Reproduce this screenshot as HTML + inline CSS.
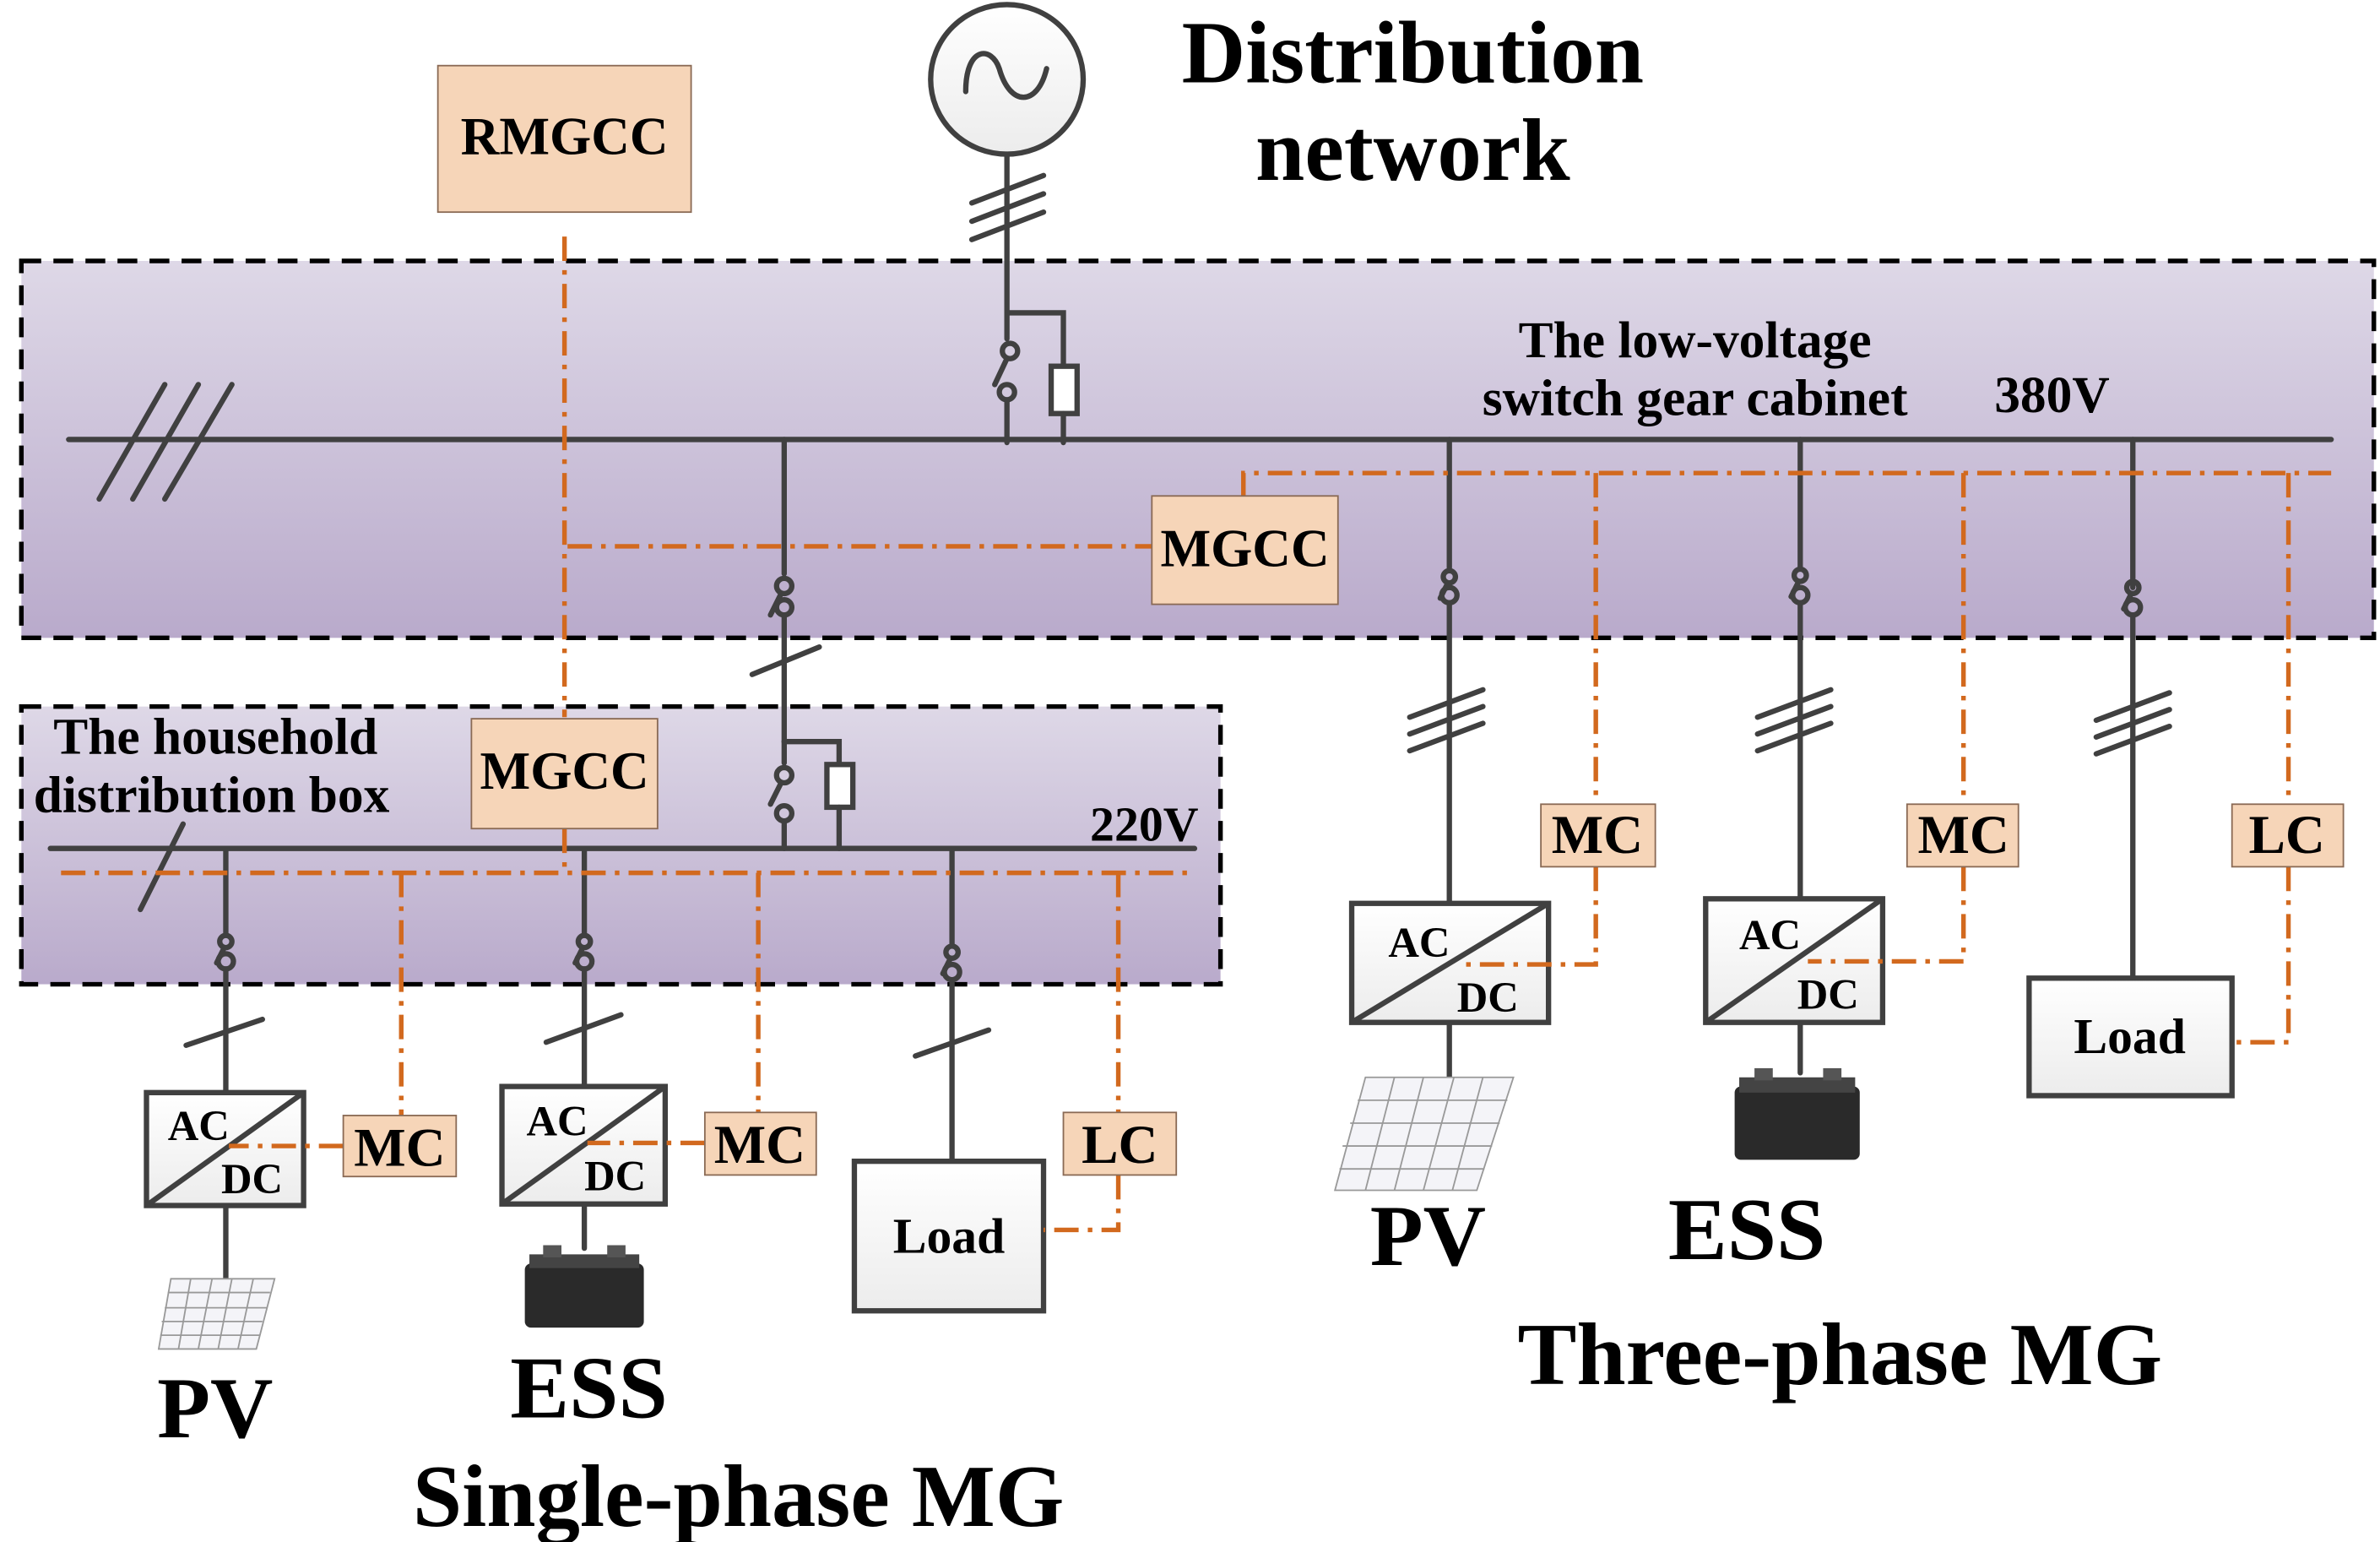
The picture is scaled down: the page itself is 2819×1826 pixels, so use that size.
<!DOCTYPE html>
<html><head><meta charset="utf-8"><style>
html,body{margin:0;padding:0;background:#fff;}
svg{display:block;}
text{font-family:"Liberation Serif",serif;font-weight:bold;fill:#000;}
</style></head><body>
<svg width="2819" height="1826" viewBox="0 0 1560 1010.5" xmlns="http://www.w3.org/2000/svg">
<defs>
<linearGradient id="g" x1="0" y1="0" x2="0" y2="1"><stop offset="0" stop-color="#ded8e7"/><stop offset="1" stop-color="#b9aacb"/></linearGradient>
<linearGradient id="w" x1="0" y1="0" x2="0" y2="1"><stop offset="0" stop-color="#ffffff"/><stop offset="1" stop-color="#ececec"/></linearGradient>
</defs>
<rect x="14" y="171" width="1542" height="247" fill="url(#g)" stroke="#000" stroke-width="3" stroke-dasharray="13 8"/>
<rect x="14" y="463" width="786" height="182" fill="url(#g)" stroke="#000" stroke-width="3" stroke-dasharray="13 8"/>

<g stroke="#404040" stroke-width="3.5" fill="none" stroke-linecap="round">
<ellipse cx="660" cy="52" rx="50" ry="49" fill="url(#w)"/>
<path d="M633 60 C633 30 650 30 655 45 C662 70 680 70 686 45" />
<line x1="660" y1="101" x2="660" y2="205"/>
<line x1="637" y1="133" x2="684" y2="115"/><line x1="637" y1="145" x2="684" y2="127"/><line x1="637" y1="157" x2="684" y2="139"/>
<line x1="660" y1="205" x2="660" y2="222"/>
<circle cx="662" cy="230" r="5"/><line x1="660" y1="235" x2="652" y2="252"/>
<circle cx="660" cy="257" r="5"/><line x1="660" y1="262" x2="660" y2="290"/>
<path d="M660 205 H697 V240"/><rect x="689" y="240" width="17" height="31" fill="#fff"/><line x1="697" y1="271" x2="697" y2="290"/>
<line x1="45" y1="288" x2="1528" y2="288"/>
<line x1="65" y1="327" x2="108" y2="252"/><line x1="87" y1="327" x2="130" y2="252"/><line x1="108" y1="327" x2="152" y2="252"/>
<line x1="514" y1="288" x2="514" y2="376"/>
<circle cx="514" cy="384" r="5"/><line x1="512" y1="389" x2="505" y2="403"/>
<circle cx="514" cy="398" r="5"/><line x1="514" y1="403" x2="514" y2="486"/>
<line x1="493" y1="442" x2="537" y2="424"/>
<line x1="514" y1="486" x2="514" y2="500"/>
<circle cx="514" cy="508" r="5"/><line x1="512" y1="513" x2="505" y2="527"/>
<circle cx="514" cy="533" r="5"/><line x1="514" y1="538" x2="514" y2="556"/>
<path d="M514 486 H550 V501"/><rect x="542" y="501" width="17" height="28" fill="#fff"/><line x1="550" y1="529" x2="550" y2="556"/>
<line x1="950" y1="288" x2="950" y2="372"/><circle cx="950" cy="378" r="4"/><line x1="949" y1="382" x2="944" y2="392"/><circle cx="950" cy="390" r="5"/><line x1="950" y1="395" x2="950" y2="592"/>
<line x1="924" y1="470" x2="972" y2="452"/><line x1="924" y1="481" x2="972" y2="463"/><line x1="924" y1="492" x2="972" y2="474"/>
<line x1="1180" y1="288" x2="1180" y2="372"/><circle cx="1180" cy="377" r="4"/><line x1="1179" y1="381" x2="1174" y2="391"/><circle cx="1180" cy="390" r="5"/><line x1="1180" y1="395" x2="1180" y2="589"/>
<line x1="1152" y1="470" x2="1200" y2="452"/><line x1="1152" y1="481" x2="1200" y2="463"/><line x1="1152" y1="492" x2="1200" y2="474"/>
<line x1="1398" y1="288" x2="1398" y2="385"/><circle cx="1398" cy="385" r="4"/><line x1="1397" y1="389" x2="1392" y2="399"/><circle cx="1398" cy="398" r="5"/><line x1="1398" y1="403" x2="1398" y2="641"/>
<line x1="1374" y1="472" x2="1422" y2="454"/><line x1="1374" y1="483" x2="1422" y2="465"/><line x1="1374" y1="494" x2="1422" y2="476"/>
<line x1="950" y1="670" x2="950" y2="706"/><line x1="1180" y1="670" x2="1180" y2="703"/>
<line x1="33" y1="556" x2="783" y2="556"/>
<line x1="92" y1="596" x2="120" y2="540"/>
<line x1="148" y1="556" x2="148" y2="612"/><circle cx="148" cy="617" r="4"/><line x1="147" y1="621" x2="142" y2="631"/><circle cx="148" cy="630" r="5"/><line x1="148" y1="635" x2="148" y2="716"/>
<line x1="122" y1="685" x2="172" y2="668"/>
<line x1="383" y1="556" x2="383" y2="612"/><circle cx="383" cy="617" r="4"/><line x1="382" y1="621" x2="377" y2="631"/><circle cx="383" cy="630" r="5"/><line x1="383" y1="635" x2="383" y2="712"/>
<line x1="358" y1="683" x2="407" y2="665"/>
<line x1="624" y1="556" x2="624" y2="620"/><circle cx="624" cy="624" r="4"/><line x1="623" y1="628" x2="618" y2="638"/><circle cx="624" cy="637" r="5"/><line x1="624" y1="642" x2="624" y2="761"/>
<line x1="600" y1="692" x2="648" y2="675"/>
<line x1="148" y1="790" x2="148" y2="838"/><line x1="383" y1="789" x2="383" y2="818"/>
</g>

<g stroke="#404040" stroke-width="3.5" fill="url(#w)">
<rect x="886" y="592" width="129" height="78"/><line x1="886" y1="670" x2="1015" y2="592"/>
<rect x="1118" y="589" width="116" height="81"/><line x1="1118" y1="670" x2="1234" y2="589"/>
<rect x="1330" y="641" width="133" height="77"/>
<rect x="96" y="716" width="103" height="74"/><line x1="96" y1="790" x2="199" y2="716"/>
<rect x="329" y="712" width="107" height="77"/><line x1="329" y1="789" x2="436" y2="712"/>
<rect x="560" y="761" width="124" height="98"/>
</g>

<g stroke="#d2691e" stroke-width="3" fill="none" stroke-dasharray="16 6 3 6">
<line x1="370" y1="155" x2="370" y2="470"/>
<line x1="372" y1="358" x2="755" y2="358"/>
<path d="M815 325 V310 H1528"/>
<line x1="1046" y1="310" x2="1046" y2="527"/>
<line x1="1287" y1="310" x2="1287" y2="527"/>
<line x1="1500" y1="310" x2="1500" y2="527"/>
<path d="M1046 568 V632 H955"/>
<path d="M1287 568 V630 H1185"/>
<path d="M1500 568 V683 H1463"/>
<path d="M370 543 V572"/>
<line x1="40" y1="572" x2="783" y2="572"/>
<line x1="263" y1="572" x2="263" y2="731"/>
<line x1="497" y1="572" x2="497" y2="729"/>
<line x1="733" y1="572" x2="733" y2="729"/>
<line x1="225" y1="751" x2="150" y2="751"/>
<line x1="462" y1="749" x2="385" y2="749"/>
<path d="M733 770 V806 H684"/>
</g>

<g fill="#f6d5b8" stroke="#8a6a55" stroke-width="1">
<rect x="287" y="43" width="166" height="96"/>
<rect x="755" y="325" width="122" height="71"/>
<rect x="309" y="471" width="122" height="72"/>
<rect x="1010" y="527" width="75" height="41"/>
<rect x="1250" y="527" width="73" height="41"/>
<rect x="1463" y="527" width="73" height="41"/>
<rect x="225" y="731" width="74" height="40"/>
<rect x="462" y="729" width="73" height="41"/>
<rect x="697" y="729" width="74" height="41"/>
</g>

<g stroke="#999" stroke-width="1" fill="#f4f4f8">
<polygon points="895,706 992,706 968,780 875,780"/>
<path d="M890 721 H988 M885 736 H983 M880 751 H978 M878 766 H973 M914 706 L895 780 M933 706 L914 780 M953 706 L933 780 M972 706 L952 780"/>
<polygon points="112,838 180,838 168,884 104,884"/>
<path d="M110 847 H177 M108 857 H175 M106 866 H172 M105 875 H170 M125 838 L117 884 M139 838 L130 884 M152 838 L143 884 M166 838 L156 884"/>
</g>
<g>
<rect x="1137" y="712" width="82" height="48" rx="4" fill="#2a2a2a"/><rect x="1140" y="706" width="76" height="10" fill="#444"/><rect x="1150" y="700" width="12" height="8" fill="#555"/><rect x="1195" y="700" width="12" height="8" fill="#555"/>
<rect x="344" y="828" width="78" height="42" rx="4" fill="#2a2a2a"/><rect x="347" y="822" width="72" height="9" fill="#444"/><rect x="356" y="816" width="12" height="8" fill="#555"/><rect x="398" y="816" width="12" height="8" fill="#555"/>
</g>

<text x="926" y="54" font-size="58" text-anchor="middle">Distribution</text>
<text x="926" y="118" font-size="58" text-anchor="middle">network</text>
<text x="370" y="101" font-size="35" text-anchor="middle">RMGCC</text>
<text x="816" y="371" font-size="35" text-anchor="middle">MGCC</text>
<text x="370" y="517" font-size="35" text-anchor="middle">MGCC</text>
<text x="1111" y="234" font-size="34" text-anchor="middle">The low-voltage</text>
<text x="1111" y="272" font-size="34" text-anchor="middle">switch gear cabinet</text>
<text x="1345" y="270" font-size="34" text-anchor="middle">380V</text>
<text x="35" y="494" font-size="34">The household</text>
<text x="22" y="532" font-size="34">distribution box</text>
<text x="750" y="551" font-size="32" text-anchor="middle">220V</text>
<g font-size="36" text-anchor="middle">
<text x="1047" y="559">MC</text><text x="1287" y="559">MC</text><text x="1499" y="559">LC</text>
<text x="262" y="764">MC</text><text x="498" y="762">MC</text><text x="734" y="762">LC</text>
</g>
<g font-size="33" text-anchor="middle">
<text x="1396" y="690">Load</text><text x="622" y="821">Load</text>
</g>
<g font-size="28">
<text x="910" y="627">AC</text><text x="955" y="663">DC</text>
<text x="1140" y="622">AC</text><text x="1178" y="661">DC</text>
<text x="110" y="747">AC</text><text x="145" y="782">DC</text>
<text x="345" y="744">AC</text><text x="383" y="780">DC</text>
</g>
<g text-anchor="middle">
<text x="936" y="829" font-size="57">PV</text><text x="1145" y="825" font-size="58">ESS</text>
<text x="141" y="942" font-size="57">PV</text><text x="386" y="929" font-size="58">ESS</text>
<text x="1206" y="907" font-size="58">Three-phase MG</text>
<text x="484" y="1000" font-size="58">Single-phase MG</text>
</g>
</svg>
</body></html>
